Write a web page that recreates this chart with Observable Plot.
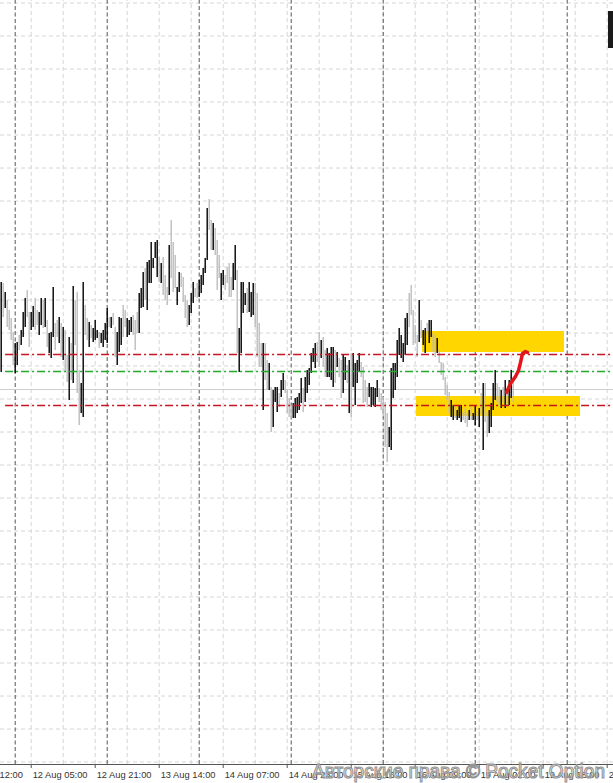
<!DOCTYPE html>
<html><head><meta charset="utf-8">
<script src="https://cdn.jsdelivr.net/npm/d3@7"></script>
<script src="https://cdn.jsdelivr.net/npm/@observablehq/plot@0.6"></script>
<style>
html,body{margin:0;padding:0;background:#fff;}
#chart{position:relative;width:613px;height:783px;overflow:hidden;}
</style></head><body><div id="chart"></div>
<script>
// M30 bars, prices in points (chart units)
const highs = [
482,481,472,464,454,446,432,421,422,429,
434,452,466,474,452,452,458,466,454,452,
466,464,466,444,431,432,477,441,444,447,
441,437,434,409,427,421,478,464,472,394,
381,482,459,446,442,439,436,444,434,432,
431,434,441,456,447,447,451,437,432,447,
446,459,454,446,444,447,449,444,452,471,
476,492,496,502,504,522,506,522,524,507,
501,507,489,477,519,544,522,509,477,492,
491,487,469,464,459,471,482,476,481,484,
489,496,506,556,565,544,541,536,524,509,
491,494,489,497,501,487,501,519,494,436,
482,482,471,476,482,472,481,481,471,441,
421,421,421,404,401,377,374,377,377,371,
384,391,384,374,366,359,361,366,367,371,
386,376,387,394,396,411,416,421,422,432,
424,427,414,416,411,417,417,414,412,406,
404,409,407,399,404,411,411,401,404,411,
402,397,384,377,381,377,377,376,384,376,
371,367,362,351,337,396,401,401,424,436,
429,421,446,451,471,479,454,439,429,464,
444,434,436,441,444,444,431,429,426,414,
402,401,387,379,372,364,359,359,354,359,
359,352,356,351,354,357,351,359,352,356,
371,381,381,352,354,361,381,394,381,377,
374,377,384,371,384,394,382];
const lows = [
392,447,456,437,434,424,399,391,399,414,
419,427,437,447,417,434,437,434,439,429,
439,436,437,417,411,406,427,414,427,421,
407,404,392,382,364,384,381,419,371,339,
351,347,429,424,417,426,422,424,426,416,
421,417,424,421,437,436,439,407,399,412,
419,427,437,427,429,432,429,414,431,431,
456,457,464,454,481,481,496,506,487,482,
481,469,464,459,469,486,472,476,459,472,
477,462,446,437,439,451,461,467,466,467,
471,479,491,504,534,514,514,509,474,486,
464,479,474,481,467,467,474,484,411,392,
411,451,459,451,452,447,449,437,407,397,
397,354,384,374,374,332,337,362,352,357,
367,374,371,351,347,346,346,346,351,354,
361,352,362,371,379,391,402,396,402,397,
406,397,387,387,387,384,377,381,397,387,
366,371,384,381,351,347,377,359,381,392,
387,361,362,357,367,357,359,357,367,362,
354,349,317,302,317,314,366,374,387,409,
406,402,409,419,437,449,419,421,407,422,
426,419,411,429,421,427,412,407,411,401,
389,384,369,364,351,347,344,346,344,346,
342,344,341,337,344,344,344,339,344,337,
349,314,342,327,331,337,354,364,362,359,
356,361,356,359,359,366,362];
// 1 = bull bar (black), 0 = bear bar (grey)
const upFlags = [
"1010000110","1110011001","1010111001","0100101000","1100101110",
"1111010011","1001110001","1101111110","1000100011","0000111001",
"1111001000","1100001101","1110111000","0100101110","1100001111",
"1011111100","1001111010","0110101111","0000111110","0000111111",
"1111000001","0110110010","0000011011","1000101101","0100111100",
"1010110"].join("");

// horizontal levels (points)
const levelRed = [410, 359];
const levelGreen = [393];
const levelBid = [375];
// grid prices and time grid (bar indices)
const gridPrices = [761.5,728.5,695.5,662.5,629.5,596.5,563.5,530.5,497.5,464.5,431.5,398.5,365.5,332.5,299.5,266.5,233.5,200.5,167.5,134.5,101.5,68.5,35.5,2.5];
const gridBars = [15,31,47,63,79,95,111,127,143,159,175,191,207,223,239,255,271,287,303];
const daySeparators = [7,53,99,145,191,237,283];
const tickBars = [-17,15,47,79,111,143,175,207,239,271,303];
const tickLabels = ["11 Aug 12:00","12 Aug 05:00","12 Aug 21:00","13 Aug 14:00","14 Aug 07:00","14 Aug 23:00","15 Aug 16:00","16 Aug 09:00","19 Aug 02:00","19 Aug 18:00","20 Aug 11:00"];
// zones and drawing
const zoneX1 = [210.65, 207.65];
const zoneX2 = [281.65, 289.65];
const zoneTop = [433, 368];
const zoneBottom = [412, 348];
const arrowBar = [252.65, 254.65, 257.15, 258.65, 259.65, 260.65, 262.15, 263.15];
const arrowPrice = [372, 381, 388, 394, 402, 411, 413, 412];
const priceBox = [{x1: 303.65, x2: 306.5, y1: 716, y2: 753}];

const bars = highs.map((h, i) => ({i, high: h, low: lows[i], up: upFlags[i] === "1"}));
const zones = zoneX1.map((x, k) => ({x1: x, x2: zoneX2[k], y1: zoneBottom[k], y2: zoneTop[k]}));
const arrow = arrowBar.map((b, k) => ({i: b, p: arrowPrice[k]}));

const plot = Plot.plot({
  width: 613, height: 783,
  marginTop: 0, marginRight: 0, marginBottom: 19, marginLeft: 0,
  x: {domain: [-0.35, 306.15], axis: null},
  y: {domain: [0, 764], axis: null},
  style: {background: "#fff", fontFamily: "'Liberation Sans', Arial, sans-serif", overflow: "visible"},
  marks: [
    Plot.ruleY(gridPrices, {stroke: "#d6d6d6", strokeDasharray: "4,3", strokeWidth: 1}),
    Plot.ruleX(gridBars, {y1: 0, y2: 764, stroke: "#d6d6d6", strokeDasharray: "4,3", strokeWidth: 1}),
    Plot.ruleX(daySeparators, {y1: 0, y2: 764, stroke: "#555", strokeDasharray: "4,2.5", strokeWidth: 1}),
    Plot.rect(zones, {x1: "x1", x2: "x2", y1: "y1", y2: "y2", fill: "#ffd600"}),
    Plot.ruleY(levelBid, {stroke: "#cfcfcf", strokeWidth: 1}),
    Plot.ruleX(bars.filter(d => !d.up), {x: "i", y1: "low", y2: "high", stroke: "#bdbdbd", strokeWidth: 1.4}),
    Plot.ruleX(bars.filter(d => d.up), {x: "i", y1: "low", y2: "high", stroke: "#000", strokeWidth: 1.4}),
    Plot.ruleY(levelRed, {x1: 2.2, x2: 306.15, stroke: "#c4161c", strokeWidth: 1.3, strokeDasharray: "8,3,2,3"}),
    Plot.ruleY(levelGreen, {x1: 2.2, x2: 306.15, stroke: "#22a82c", strokeWidth: 1.3, strokeDasharray: "8,3,2,3"}),
    Plot.line(arrow, {x: "i", y: "p", stroke: "#e3141b", strokeWidth: 3.5, strokeLinecap: "round", strokeLinejoin: "round"}),
    Plot.rect(priceBox, {x1: "x1", x2: "x2", y1: "y1", y2: "y2", fill: "#1a1a1a"}),
    Plot.ruleY([0], {stroke: "#555", strokeWidth: 1}),
    Plot.ruleX(tickBars, {y1: 0, y2: -4, stroke: "#555", strokeWidth: 1}),
    Plot.text(tickBars, {x: d => d, y: -10.5, text: (d, i) => tickLabels[i], textAnchor: "start", dx: 1.5, fontSize: 9.3, fill: "#333"})
  ]
});
document.getElementById("chart").appendChild(plot);
d3.select(plot).append("text")
  .attr("x", 312).attr("y", 778)
  .attr("text-anchor", "start")
  .attr("textLength", 293).attr("lengthAdjust", "spacingAndGlyphs")
  .attr("font-family", "'Liberation Sans', Arial, sans-serif")
  .attr("font-size", 20)
  .attr("fill", "rgba(255,255,255,0.65)")
  .attr("stroke", "#929292").attr("stroke-width", 1.1)
  .text("Авторские права © Pocket Option");
</script></body></html>
